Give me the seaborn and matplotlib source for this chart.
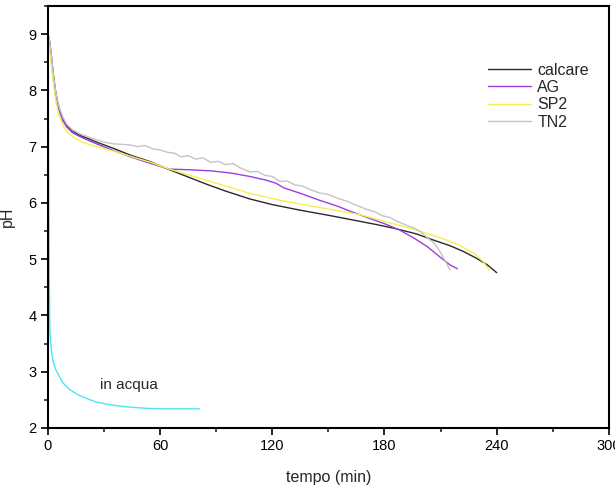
import matplotlib
matplotlib.use('Agg')
import matplotlib.pyplot as plt
import seaborn as sns
import pandas as pd
from matplotlib.ticker import MultipleLocator

# pH curves (time in minutes)
t_calcare = [0, 1, 2, 3, 4, 5, 6, 8, 10, 13, 17, 21, 26, 35, 44, 55, 65, 75, 85, 95, 108,
             120, 135, 150, 161, 175, 185, 197, 207, 215, 222, 229, 235, 240]
ph_calcare = [9.0, 8.85, 8.55, 8.25, 8.0, 7.82, 7.68, 7.5, 7.38, 7.28, 7.2, 7.15, 7.08, 6.97,
              6.85, 6.73, 6.59, 6.46, 6.33, 6.21, 6.07, 5.97, 5.87, 5.78, 5.71, 5.62, 5.55,
              5.45, 5.33, 5.24, 5.14, 5.02, 4.9, 4.76]

t_ag = [0, 1, 2, 3, 4, 5, 6, 8, 10, 13, 17, 21, 26, 35, 44, 55, 65, 75, 87, 98, 108, 116,
        122, 126, 135, 145, 155, 161, 170, 180, 188, 196, 203, 210, 215, 219]
ph_ag = [9.0, 8.8, 8.5, 8.2, 7.95, 7.78, 7.64, 7.46, 7.35, 7.25, 7.18, 7.12, 7.05, 6.93,
         6.82, 6.7, 6.6, 6.59, 6.57, 6.53, 6.47, 6.41, 6.35, 6.27, 6.17, 6.05, 5.94, 5.86,
         5.75, 5.63, 5.52, 5.37, 5.22, 5.03, 4.9, 4.83]

t_sp2 = [0, 0.5, 1, 2, 3, 4, 5, 6, 8, 10, 13, 17, 21, 26, 35, 44, 55, 65, 80, 95, 108, 125,
         145, 167, 180, 197, 210, 220, 228, 233, 236]
ph_sp2 = [9.0, 8.9, 8.7, 8.4, 8.1, 7.85, 7.68, 7.55, 7.38, 7.27, 7.18, 7.1, 7.05, 7.0, 6.92,
          6.83, 6.72, 6.6, 6.45, 6.3, 6.17, 6.04, 5.92, 5.79, 5.67, 5.52, 5.38, 5.25, 5.1,
          4.95, 4.8]

t_tn2 = [0, 1, 2, 3, 4, 5, 6, 8, 10, 13, 17, 21, 26, 30, 35, 40, 44, 48, 52, 56, 60, 64,
         68, 71, 75, 79, 83, 87, 91, 95, 99, 103, 108, 112, 116, 120, 124, 128, 132, 136,
         140, 145, 150, 155, 160, 164, 167, 171, 175, 179, 183, 187, 192, 196, 200, 203,
         206, 208, 210, 212, 215]
ph_tn2 = [9.0, 8.85, 8.55, 8.25, 8.0, 7.83, 7.7, 7.52, 7.4, 7.3, 7.23, 7.18, 7.12, 7.08,
          7.05, 7.04, 7.03, 7.0, 7.02, 6.96, 6.94, 6.9, 6.88, 6.82, 6.84, 6.78, 6.8, 6.72,
          6.74, 6.68, 6.7, 6.62, 6.55, 6.56, 6.49, 6.47, 6.38, 6.39, 6.32, 6.3, 6.24, 6.18,
          6.15, 6.08, 6.03, 5.97, 5.93, 5.88, 5.84, 5.77, 5.74, 5.67, 5.6, 5.55, 5.47, 5.38,
          5.3, 5.22, 5.12, 5.0, 4.81]

t_acqua = [0, 0.3, 0.6, 1, 1.5, 2, 2.7, 4, 6, 8, 11.8, 16, 21, 26, 32, 38, 44, 52, 61.5,
           70, 81]
ph_acqua = [9.0, 7.0, 5.0, 3.74, 3.5, 3.35, 3.2, 3.05, 2.92, 2.8, 2.68, 2.59, 2.52, 2.46,
            2.42, 2.39, 2.37, 2.35, 2.34, 2.34, 2.34]

series = [
    ('calcare', t_calcare, ph_calcare, '#2a2a2a'),
    ('AG', t_ag, ph_ag, '#9a3ee0'),
    ('SP2', t_sp2, ph_sp2, '#f4f050'),
    ('TN2', t_tn2, ph_tn2, '#c4c4c4'),
]

sns.set_style('white')
plt.rcParams['font.family'] = ['Liberation Sans', 'DejaVu Sans']

fig = plt.figure(figsize=(6.15, 4.98), dpi=100)
ax = fig.add_axes([0.078, 0.1406, 0.912, 0.8474])

for name, t, ph, col in series:
    df = pd.DataFrame({'t': t, 'ph': ph})
    sns.lineplot(data=df, x='t', y='ph', ax=ax, color=col, lw=1.0, label=name,
                 sort=False, estimator=None)

df_acqua = pd.DataFrame({'t': t_acqua, 'ph': ph_acqua})
sns.lineplot(data=df_acqua, x='t', y='ph', ax=ax, color='#4de6f0', lw=1.0,
             sort=False, estimator=None, legend=False)

ax.text(28, 2.77, 'in acqua', fontsize=11, va='center', ha='left')

ax.set_xlim(0, 300)
ax.set_ylim(2, 9.5)
ax.xaxis.set_major_locator(MultipleLocator(60))
ax.xaxis.set_minor_locator(MultipleLocator(30))
ax.yaxis.set_major_locator(MultipleLocator(1))
ax.yaxis.set_minor_locator(MultipleLocator(0.5))
ax.tick_params(which='major', direction='out', length=5, width=1.2, labelsize=10.5,
               bottom=True, left=True, colors='black', pad=3)
ax.tick_params(which='minor', direction='out', length=3, width=1.2,
               bottom=True, left=True)
for s in ax.spines.values():
    s.set_linewidth(1.5)
    s.set_color('black')

ax.set_xlabel('tempo (min)', fontsize=11.5, labelpad=12)
ax.set_ylabel('pH', fontsize=11.5, labelpad=10)

ax.legend(loc='upper right', bbox_to_anchor=(0.99, 0.9), frameon=False, fontsize=11.5,
          handlelength=2.7, handletextpad=0.4, labelspacing=0.15)

fig.savefig('out.png', dpi=100)
